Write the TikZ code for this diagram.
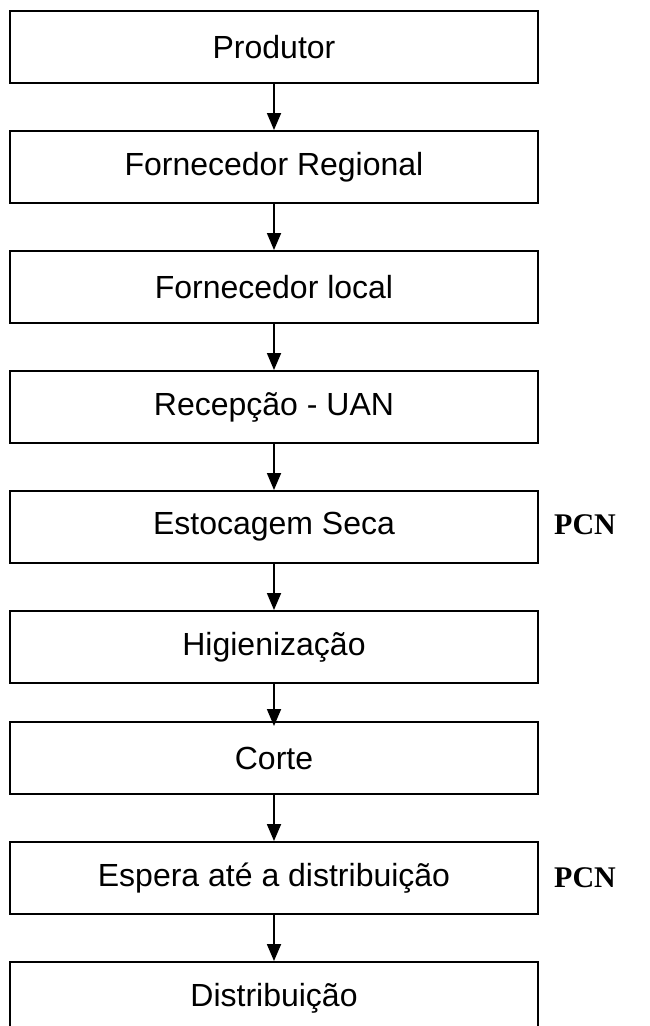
\documentclass[tikz,border=0pt]{standalone}
\usepackage{fontspec}
\setmainfont{Liberation Sans}
\newfontfamily\pcnfont{Liberation Serif}
\usetikzlibrary{arrows.meta}
\begin{document}
\begin{tikzpicture}[x=1pt,y=-1pt,
  stepbox/.style={draw=black,line width=2pt,minimum width=528pt,minimum height=72pt,
    inner sep=0pt,font=\fontsize{32}{36}\selectfont},
  flow/.style={line width=1.8pt,-{Triangle[width=14pt,length=17pt]}},
  pcn/.style={font=\pcnfont\bfseries\fontsize{30}{34}\selectfont}]
  \useasboundingbox (0,0) rectangle (649,1026);
  % process steps, top to bottom
  \node[stepbox] (p1) at (274,47)  {Produtor};
  \node[stepbox] (p2) at (274,167) {Fornecedor Regional};
  \node[stepbox] (p3) at (274,287) {Fornecedor local};
  \node[stepbox] (p4) at (274,407) {Recepção - UAN};
  \node[stepbox] (p5) at (274,527) {Estocagem Seca};
  \node[stepbox] (p6) at (274,647) {Higienização};
  \node[stepbox] (p7) at (274,758) {Corte};
  \node[stepbox] (p8) at (274,878) {Espera até a distribuição};
  \node[stepbox] (p9) at (274,998) {Distribuição};
  % critical points
  \node[pcn] (c5) at (585,525) {PCN};
  \node[pcn] (c8) at (585,878) {PCN};
  % connectors
  \draw[flow] (p1.south) -- (p2.north);
  \draw[flow] (p2.south) -- (p3.north);
  \draw[flow] (p3.south) -- (p4.north);
  \draw[flow] (p4.south) -- (p5.north);
  \draw[flow] (p5.south) -- (p6.north);
  \draw[flow] (p6.south) -- ([yshift=-5pt]p7.north);
  \draw[flow] (p7.south) -- (p8.north);
  \draw[flow] (p8.south) -- (p9.north);
\end{tikzpicture}
\end{document}
